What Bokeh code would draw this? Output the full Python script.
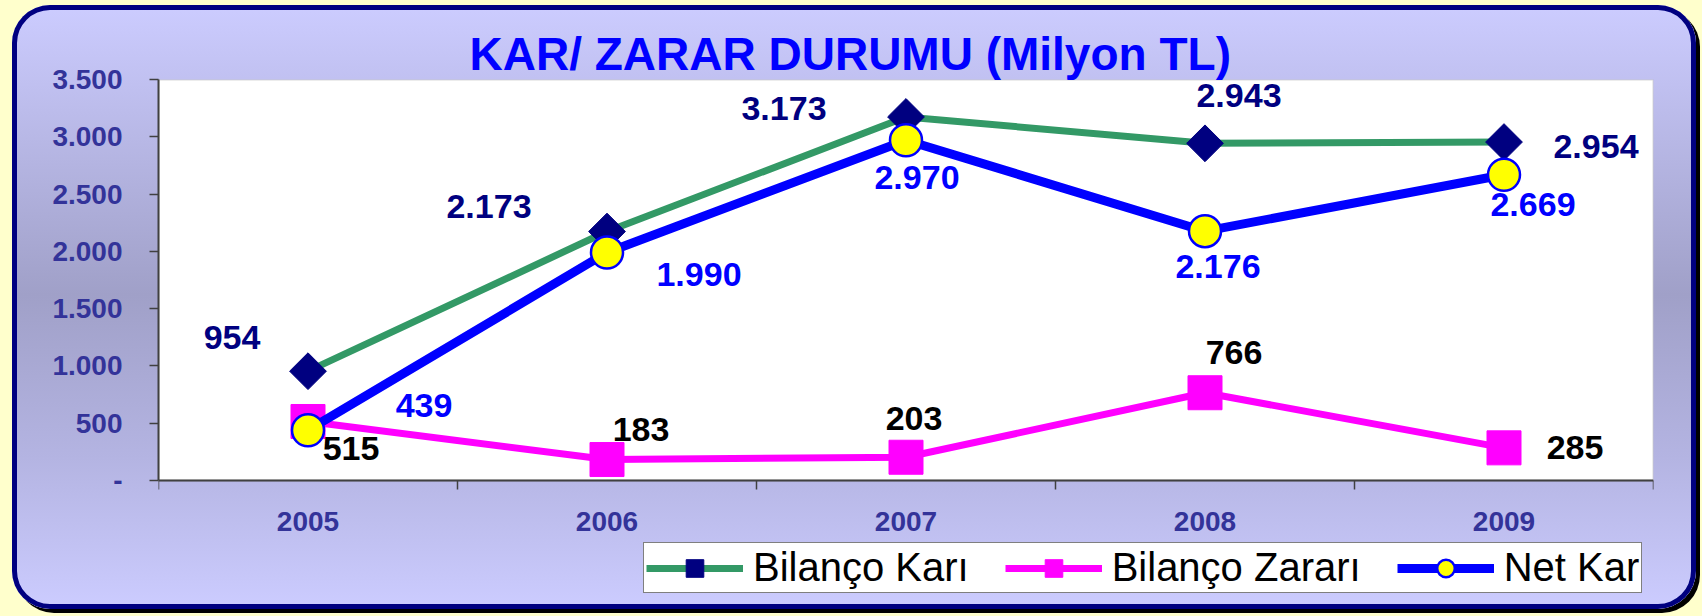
from math import pi
from bokeh.plotting import figure
from bokeh.core.properties import value
from bokeh.models import (ColumnDataSource, Range1d, FixedTicker, LabelSet, Legend,
                          LegendItem, GlobalInlineStyleSheet, BoxAnnotation)
from bokeh.embed import file_html
from bokeh.resources import INLINE

# ---------------- data ----------------
years = ["2005", "2006", "2007", "2008", "2009"]
bilanco_kari = [954, 2173, 3173, 2943, 2954]
bilanco_zarari = [515, 183, 203, 766, 285]
net_kar = [439, 1990, 2970, 2176, 2669]
y_ticks = [0, 500, 1000, 1500, 2000, 2500, 3000, 3500]
y_max = 3500

# label offsets (screen px, right / up)
kari_dx = [-76, -118, -122, 34, 92]
kari_dy = [34, 25, 8, 48, -4]
zarar_dx = [43, 34, 8, 29, 71]
zarar_dy = [-27, 30, 39, 40, 0]
net_dx = [116, 92, 11, 13, 29]
net_dy = [25, -22, -37, -35, -30]


def tr(v):
    return "-" if v == 0 else f"{v:,}".replace(",", ".")


xs = list(range(len(years)))

FONT = "Liberation Sans"

# layout (pixels)
W, H = 1684, 604
TOP, BOTTOM_BORDER = 74, 4
FRAME_H = H - TOP - BOTTOM_BORDER
PLOT_H = 401          # height of the white plotting area
y_start = -y_max * (FRAME_H - PLOT_H) / PLOT_H

p = figure(width=W, height=H, output_backend="svg", toolbar_location=None,
           x_range=Range1d(-0.5, len(years) - 0.5), y_range=Range1d(y_start, y_max),
           min_border_left=146, min_border_right=43, min_border_top=TOP,
           min_border_bottom=BOTTOM_BORDER)

p.border_fill_color = None
p.background_fill_color = None
p.outline_line_color = None
p.grid.visible = False

p.styles = {
    "background": "linear-gradient(to bottom, #CCCCFF 0%, #B8B8E6 22%, #A0A0C8 48%, #B4B4E2 75%, #CCCCFF 100%)",
    "border-radius": "38px",
    "box-shadow": "inset 0 0 0 5px #000080, 4px 4px 0 0 #000000",
}
p.stylesheets = [GlobalInlineStyleSheet(
    css="html, body { background: #FFFFCC !important; margin: 0 !important; } "
        "body { padding: 5px 0 0 12px !important; }")]

# white plot area with grey border
p.add_layout(BoxAnnotation(left=-0.5, right=len(years) - 0.5, bottom=0, top=y_max,
                           fill_color="white", fill_alpha=1, line_color="#808080",
                           line_width=2, level="underlay"))

# title
p.title.text = "KAR/ ZARAR DURUMU (Milyon TL)"
p.title.text_color = "#0000FF"
p.title.text_font = FONT
p.title.text_font_style = "bold"
p.title.text_font_size = "46px"
p.title.align = "left"
p.title.offset = 311
p.title.standoff = 0

# axes
yax = p.yaxis[0]
yax.ticker = FixedTicker(ticks=y_ticks)
yax.bounds = (0, y_max)
yax.major_label_overrides = {t: tr(t) for t in y_ticks}
yax.major_label_text_font = FONT
yax.major_label_text_font_style = "bold"
yax.major_label_text_font_size = "28px"
yax.major_label_text_color = "#333399"
yax.major_label_standoff = 27
yax.major_tick_out = 9
yax.major_tick_in = 0
yax.minor_tick_out = 0
yax.minor_tick_in = 0
yax.axis_line_color = "#404040"
yax.axis_line_width = 2
yax.major_tick_line_color = "#404040"
yax.major_tick_line_width = 1.5

xax = p.xaxis[0]
xax.fixed_location = 0
xax.ticker = FixedTicker(ticks=xs, minor_ticks=[i - 0.5 for i in range(len(years) + 1)])
xax.major_label_overrides = {i: y for i, y in zip(xs, years)}
xax.major_label_text_font = FONT
xax.major_label_text_font_style = "bold"
xax.major_label_text_font_size = "28px"
xax.major_label_text_color = "#333399"
xax.major_label_standoff = 22
xax.major_tick_out = 0
xax.major_tick_in = 0
xax.minor_tick_out = 9
xax.minor_tick_in = 0
xax.minor_tick_line_color = "#404040"
xax.minor_tick_line_width = 1.5
xax.axis_line_color = "#404040"
xax.axis_line_width = 2

src = ColumnDataSource(dict(
    x=xs, kari=bilanco_kari, zarar=bilanco_zarari, net=net_kar,
    kari_t=[tr(v) for v in bilanco_kari], zarar_t=[tr(v) for v in bilanco_zarari],
    net_t=[tr(v) for v in net_kar],
    kdx=kari_dx, kdy=kari_dy, zdx=zarar_dx, zdy=zarar_dy, ndx=net_dx, ndy=net_dy,
))

l1 = p.line("x", "kari", source=src, line_color="#339966", line_width=7)
m1 = p.scatter("x", "kari", source=src, marker="square", angle=pi / 4, size=26,
               fill_color="#000080", line_color="#000080")
l2 = p.line("x", "zarar", source=src, line_color="#FF00FF", line_width=7)
m2 = p.scatter("x", "zarar", source=src, marker="square", size=34,
               fill_color="#FF00FF", line_color="#FF00FF")
l3 = p.line("x", "net", source=src, line_color="#0000FF", line_width=9)
m3 = p.scatter("x", "net", source=src, marker="circle", size=32,
               fill_color="#FFFF00", line_color="#0000FF", line_width=2.5)

for col, txt, dx, dy, color in [("kari", "kari_t", "kdx", "kdy", "#000080"),
                                ("zarar", "zarar_t", "zdx", "zdy", "#000000"),
                                ("net", "net_t", "ndx", "ndy", "#0000FF")]:
    p.add_layout(LabelSet(x="x", y=col, text=txt, source=src, x_offset=dx, y_offset=dy,
                          text_align="center", text_baseline="middle",
                          text_font=value(FONT), text_font_style="bold",
                          text_font_size="34px", text_color=color))

legend = Legend(items=[
    LegendItem(label="Bilanço Karı", renderers=[l1, m1]),
    LegendItem(label="Bilanço Zararı", renderers=[l2, m2]),
    LegendItem(label="Net Kar", renderers=[l3, m3]),
], orientation="horizontal", location=(485, 12))
legend.label_text_font = FONT
legend.label_text_font_size = "40px"
legend.label_text_color = "black"
legend.border_line_color = "black"
legend.border_line_width = 1.5
legend.background_fill_color = "white"
legend.background_fill_alpha = 1
legend.padding = 2
legend.spacing = 36
legend.margin = 0
legend.label_standoff = 10
legend.glyph_width = 97
legend.glyph_height = 44
legend.label_height = 44
p.add_layout(legend, "center")

open("out.html", "w").write(file_html(p, INLINE))
